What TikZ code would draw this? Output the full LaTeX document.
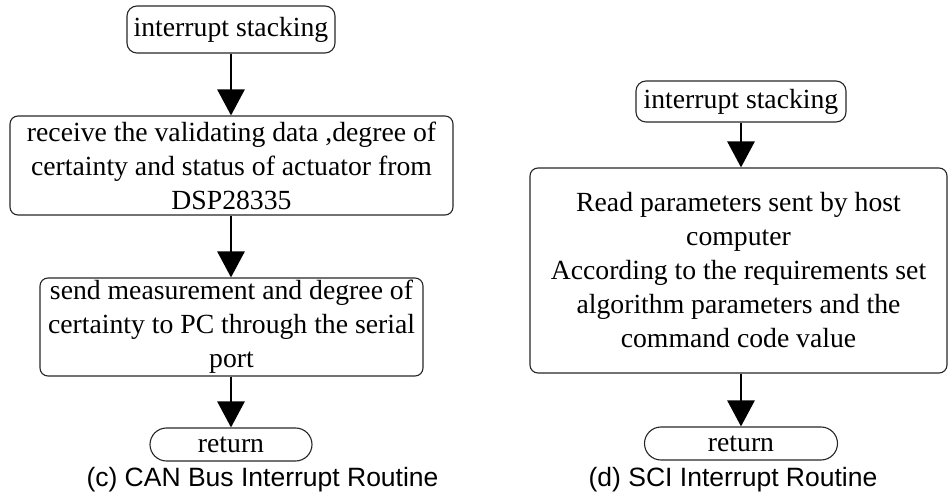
\documentclass[tikz,border=0pt]{standalone}
\usepackage{fontspec}
\setmainfont{Liberation Serif}
\newfontfamily\capfont{Liberation Sans}
\usetikzlibrary{arrows.meta,shapes.misc}

\begin{document}
\begin{tikzpicture}[x=0.5pt,y=-0.5pt,
  box/.style={draw=black!85, line width=0.55pt, rounded corners=4pt, align=center,
    inner sep=0pt, font=\fontsize{13.85}{17}\selectfont},
  term/.style={draw=black!85, line width=0.55pt, rounded rectangle, inner sep=0pt,
    font=\fontsize{13.85}{17}\selectfont},
  flow/.style={line width=1.4pt, -{Triangle[width=13.5pt,length=13pt]}},
  caption/.style={font=\capfont\fontsize{13.25}{16}\selectfont, inner sep=0pt}]
\useasboundingbox (0,0) rectangle (948,497);

% (c) CAN bus interrupt routine
\node[box, rounded corners=5pt, minimum width=104pt, minimum height=23.5pt] (c1) at (231,29.5) {interrupt stacking};
\node[box, minimum width=221.5pt, minimum height=49.5pt] (c2) at (231.5,165.5)
  {receive the validating data ,degree of\\certainty and status of actuator from\\DSP28335};
\node[box, minimum width=191.5pt, minimum height=49pt] (c3) at (231.5,327)
  {send measurement and degree of\\certainty to PC through the serial\\port};
\node[term, minimum width=81pt, minimum height=16.5pt] (c4) at (231,444.5) {return};
\node[caption] (ccap) at (262.5,480) {(c) CAN Bus Interrupt Routine};

\draw[flow] (c1.south) -- (c1.south |- c2.north);
\draw[flow] (c1.south |- c2.south) -- (c1.south |- c3.north);
\draw[flow] (c1.south |- c3.south) -- (c4.north);

% (d) SCI interrupt routine
\node[box, rounded corners=5pt, minimum width=105pt, minimum height=20.5pt] (d1) at (741,101.5) {interrupt stacking};
\node[box, minimum width=208.5pt, minimum height=102.5pt] (d2) at (738.5,270.5)
  {Read parameters sent by host\\computer\\According to the requirements set\\algorithm parameters and the\\command code value};
\node[term, minimum width=96.5pt, minimum height=16.5pt] (d3) at (741,443.5) {return};
\node[caption] (dcap) at (733,480) {(d) SCI Interrupt Routine};

\draw[flow] (d1.south) -- (d1.south |- d2.north);
\draw[flow] (d1.south |- d2.south) -- (d3.north);
\end{tikzpicture}
\end{document}
